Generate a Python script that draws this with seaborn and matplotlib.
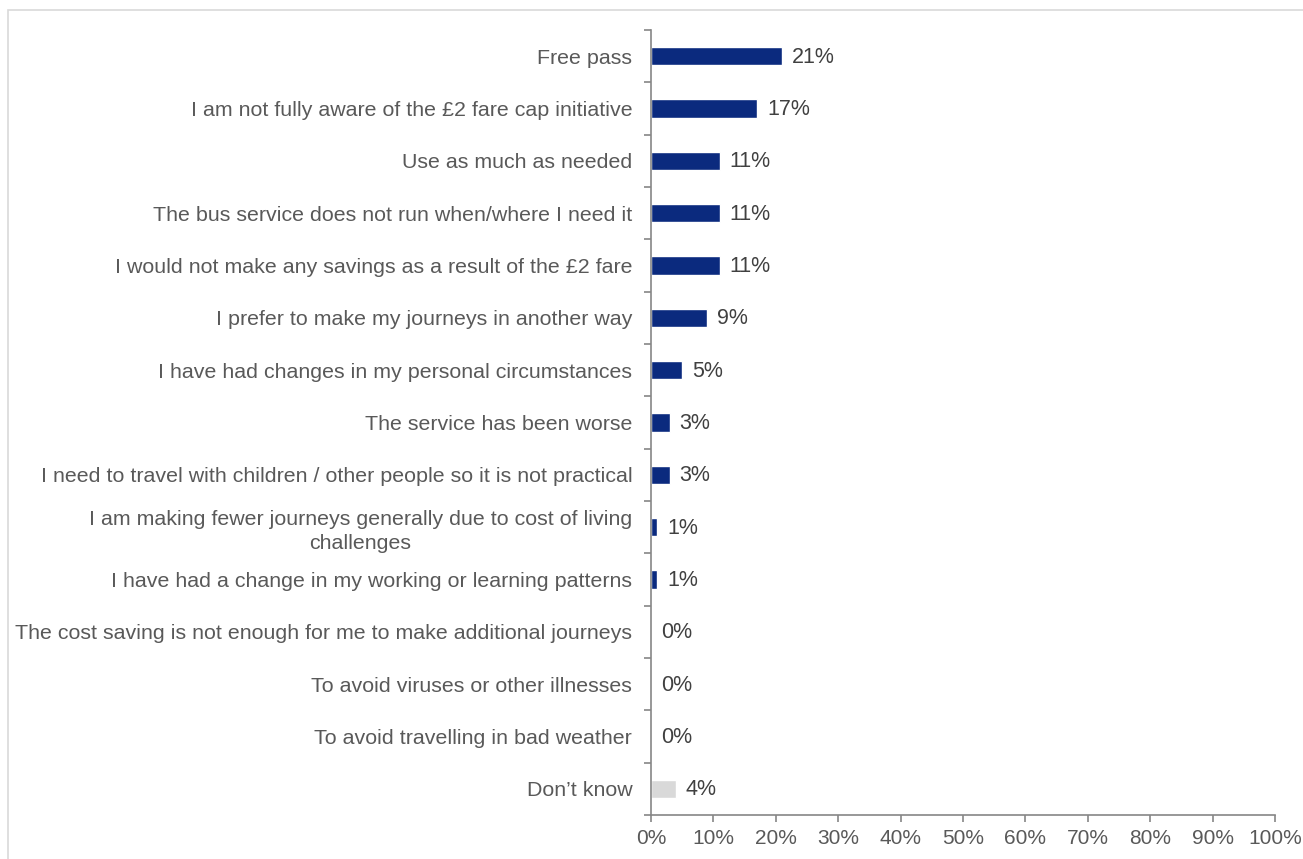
import matplotlib
matplotlib.use("Agg")
import matplotlib.pyplot as plt
import seaborn as sns
import pandas as pd
from matplotlib.ticker import FixedLocator, NullFormatter

categories = [
    "Free pass",
    "I am not fully aware of the £2 fare cap initiative",
    "Use as much as needed",
    "The bus service does not run when/where I need it",
    "I would not make any savings as a result of the £2 fare",
    "I prefer to make my journeys in another way",
    "I have had changes in my personal circumstances",
    "The service has been worse",
    "I need to travel with children / other people so it is not practical",
    "I am making fewer journeys generally due to cost of living\nchallenges",
    "I have had a change in my working or learning patterns",
    "The cost saving is not enough for me to make additional journeys",
    "To avoid viruses or other illnesses",
    "To avoid travelling in bad weather",
    "Don\u2019t know",
]
values = [21, 17, 11, 11, 11, 9, 5, 3, 3, 1, 1, 0, 0, 0, 4]
bar_colors = ["#0B2A7E"] * 14 + ["#D9D9D9"]
x_ticks = list(range(0, 101, 10))

sns.set_theme(style="white")
plt.rcParams["font.family"] = ["Liberation Sans", "DejaVu Sans"]

df = pd.DataFrame({"cat": categories, "val": values})

fig = plt.figure(figsize=(13.03, 8.59), dpi=100)
ax = fig.add_axes([651 / 1303, 1 - 815 / 859, (1275 - 651) / 1303, (815 - 30) / 859])

sns.barplot(data=df, y="cat", x="val", hue="cat", palette=bar_colors,
            legend=False, width=0.35, ax=ax, orient="h", saturation=1)

text_color = "#595959"
axis_color = "#868686"

ax.set_xlim(0, 100)
ax.set_ylim(len(categories) - 0.5, -0.5)
ax.set_xticks(x_ticks)
ax.set_xticklabels([f"{t}%" for t in x_ticks], fontsize=15, color=text_color)
ax.set_xlabel("")
ax.set_ylabel("")

# category labels at centers, tick marks at boundaries
ax.set_yticks(range(len(categories)))
ax.set_yticklabels(categories, fontsize=15.4, color=text_color, ha="right",
                   multialignment="center", linespacing=1.35)
ax.tick_params(axis="y", which="major", length=0, pad=13.5, left=False)
ax.yaxis.set_minor_locator(FixedLocator([i - 0.5 for i in range(len(categories) + 1)]))
ax.yaxis.set_minor_formatter(NullFormatter())
ax.tick_params(axis="y", which="minor", left=True, length=5, width=1.2,
               color=axis_color, direction="out")
ax.tick_params(axis="x", which="major", bottom=True, length=5, width=1.2,
               color=axis_color, direction="out", pad=5)

for s in ["top", "right"]:
    ax.spines[s].set_visible(False)
for s in ["left", "bottom"]:
    ax.spines[s].set_color(axis_color)
    ax.spines[s].set_linewidth(1.2)

for i, v in enumerate(values):
    ax.text(v + 1.6, i + 0.02, f"{v}%", va="center", ha="left", fontsize=15.5, color="#404040")

# outer frame
fig.patches.append(plt.Rectangle((8 / 1303, -0.01), 1.1, 1 - 10 / 859 + 0.01,
                                 transform=fig.transFigure, fill=False,
                                 edgecolor="#D9D9D9", linewidth=1.2))

fig.savefig("out.png", dpi=100)
